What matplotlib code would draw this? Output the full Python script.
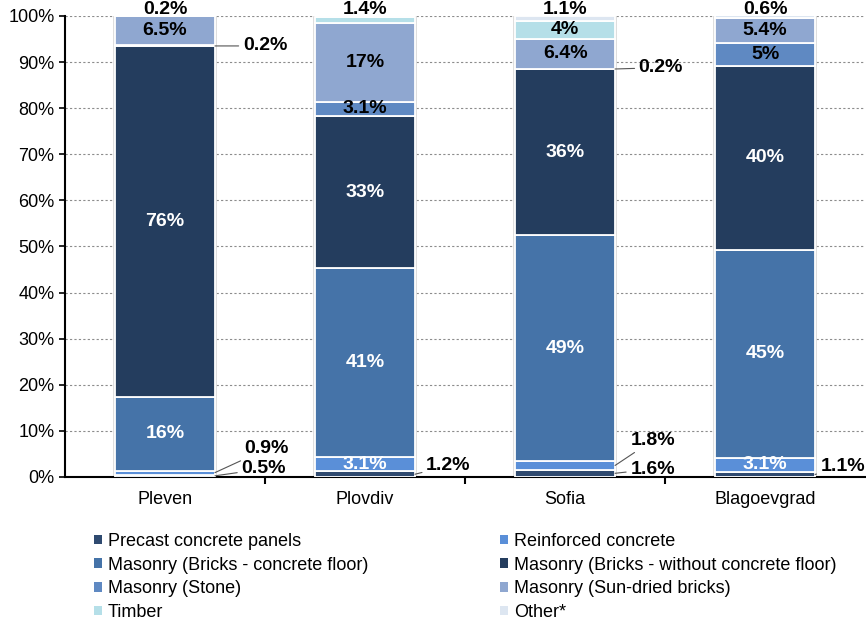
import matplotlib.pyplot as plt
from matplotlib.patches import Patch
import numpy as np

plt.rcParams['font.family'] = ['Liberation Sans', 'DejaVu Sans']

cities = ['Pleven', 'Plovdiv', 'Sofia', 'Blagoevgrad']
series = ['Precast concrete panels', 'Reinforced concrete',
          'Masonry (Bricks - concrete floor)', 'Masonry (Bricks - without concrete floor)',
          'Masonry (Stone)', 'Masonry (Sun-dried bricks)', 'Timber', 'Other*']

precast = [0.5, 1.2, 1.6, 1.1]
reinforced = [0.9, 3.1, 1.8, 3.1]
bricks_floor = [16, 41, 49, 45]
bricks_nofloor = [76, 33, 36, 40]
stone = [0.2, 3.1, 0.2, 5]
sun_dried = [6.5, 17, 6.4, 5.4]
timber = [0, 1.4, 4, 0]
other = [0.2, 0, 1.1, 0.6]

values = [precast, reinforced, bricks_floor, bricks_nofloor, stone, sun_dried, timber, other]
colors = ['#2f4a70', '#5a8fd8', '#4573a8', '#243d5e', '#5f89c2', '#8fa7d0', '#b5dfe8', '#dde6f1']
text_white = [True, True, True, True, False, False, False, False]

# small segments labelled outside the bar: (city, series) -> text offset in points from bar edge
outside = {
    (0, 4): (36, 0), (0, 0): (35, 5), (0, 1): (37, 17),
    (1, 0): (24, 6),
    (2, 1): (27, 18), (2, 0): (27, 3), (2, 4): (33, 1),
    (3, 0): (20, 6),
}
top = {(0, 7), (1, 6), (2, 7), (3, 7)}
fs = 14

fig = plt.figure(figsize=(8.66, 6.24), dpi=100)
ax = fig.add_axes([0.075, 0.2356, 0.924, 0.7388])

x = np.arange(len(cities))
w = 0.5
bottom = np.zeros(len(cities))
for i, vals in enumerate(values):
    vals = np.array(vals, dtype=float)
    ax.bar(x, vals, w, bottom=bottom, color=colors[i], edgecolor='white', linewidth=1.3, zorder=3)
    for j in range(len(cities)):
        v = vals[j]
        if v == 0:
            continue
        lab = ('%g' % v) + '%'
        yc = bottom[j] + v / 2
        if (j, i) in top:
            ax.annotate(lab, (x[j], 100), xytext=(0, 5), textcoords='offset points',
                        ha='center', va='center', fontsize=fs, fontweight='bold', zorder=6,
                        annotation_clip=False)
        elif (j, i) in outside:
            dx, dy = outside[(j, i)]
            ax.annotate(lab, (x[j] + w / 2, yc), xytext=(dx, dy), textcoords='offset points',
                        ha='center', va='center', fontsize=fs, fontweight='bold', zorder=6,
                        arrowprops=dict(arrowstyle='-', color='#555555', lw=0.8,
                                        shrinkA=1, shrinkB=0))
        else:
            ax.text(x[j], yc, lab, ha='center', va='center', fontsize=fs, fontweight='bold',
                    color='white' if text_white[i] else 'black', zorder=6)
    bottom += vals

# light border round each bar
ax.bar(x, np.minimum(bottom, 100), w + 0.01, fill=False, edgecolor='#d8d8d8', linewidth=1.2, zorder=2)

ax.set_xlim(-0.5, 3.5)
ax.set_ylim(0, 100)
ax.set_yticks(np.arange(0, 101, 10))
ax.set_yticklabels(['%d%%' % t for t in range(0, 101, 10)], fontsize=13)
ax.set_xticks(x)
ax.set_xticklabels(cities, fontsize=13)
ax.tick_params(axis='x', length=0, pad=10)
ax.set_xticks([0.5, 1.5, 2.5], minor=True)
ax.tick_params(axis='x', which='minor', length=5, width=1.5, direction='out')
ax.tick_params(axis='y', length=4, width=1.2)
ax.yaxis.grid(True, linestyle=(0, (2, 2)), color='#8c8c8c', linewidth=0.8, zorder=0)
ax.set_axisbelow(True)
for s in ['top', 'right']:
    ax.spines[s].set_visible(False)
ax.spines['left'].set_linewidth(1.5)
ax.spines['bottom'].set_linewidth(1.5)

handles = [Patch(facecolor=c, edgecolor='none') for c in colors]
for col, x0 in [(0, 0.108), (1, 0.577)]:
    idx = [col, col + 2, col + 4, col + 6]
    fig.legend([handles[k] for k in idx], [series[k] for k in idx], loc='upper left',
               bbox_to_anchor=(x0, 0.146), frameon=False, fontsize=13,
               handlelength=0.45, handleheight=0.45, handletextpad=0.35,
               labelspacing=0.37, borderpad=0, borderaxespad=0)

fig.savefig('out.png', dpi=100)
